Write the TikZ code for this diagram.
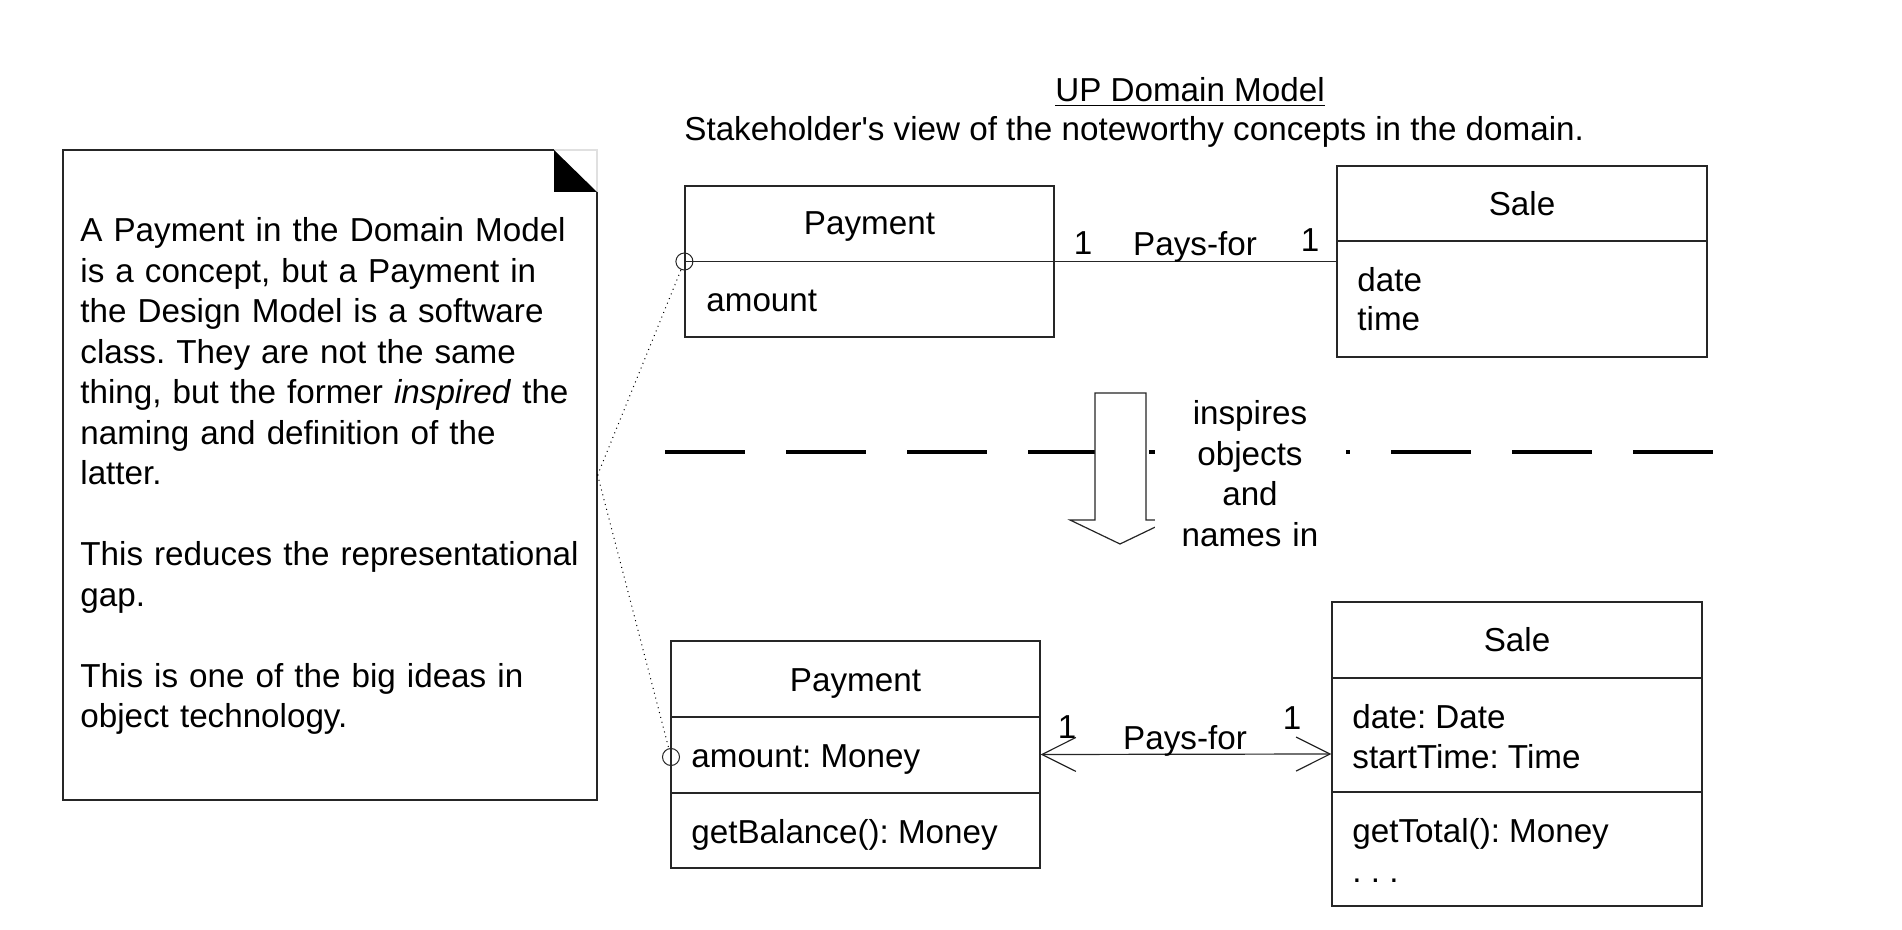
\documentclass[tikz,border=0pt]{standalone}
\usepackage{fontspec}
\newfontfamily\umlfont{Liberation Sans}
\usetikzlibrary{arrows.meta}
\frenchspacing

\begin{document}
\begin{tikzpicture}[x=0.5pt, y=-0.5pt,
    font=\umlfont\fontsize{16.6pt}{20.25pt}\selectfont,
    box/.style={draw=black!85, line width=0.6pt, inner sep=0pt},
    txt/.style={inner sep=0pt, anchor=base west},
    ctr/.style={inner sep=0pt, anchor=base},
    pin/.style={draw=black!85, circle, line width=0.5pt, inner sep=0pt, minimum size=8.5pt},
    assoc/.style={draw=black!85, line width=0.6pt},
    barb/.style={{Straight Barb[length=17pt,width=17pt]}-{Straight Barb[length=17pt,width=17pt]}}]
    \useasboundingbox (0,0) rectangle (1902,930);

    \node[ctr] (title) at (1190,102) {\underline{UP Domain Model}};
    \node[txt] (subtitle) at (684,141) {Stakeholder's view of the noteworthy concepts in the domain.};

    \node[box, minimum width=267pt, minimum height=325pt] (note) at (330,475) {};
    \fill[white] (553,147) -- (600,147) -- (600,193) -- cycle;
    \draw[black!12, line width=0.6pt] (554,150) -- (597,150) -- (597,192);
    \fill[black] (554,150) -- (597,192) -- (554,192) -- cycle;
    \node[txt, text width=260pt, align=left] (notetext) at (80,242) {A Payment in the Domain Model\\
      is a concept, but a Payment in\\
      the Design Model is a software\\
      class. They are not the same\\
      thing, but the former \textit{inspired} the\\
      naming and definition of the\\
      latter.\\[20.25pt]
      This reduces the representational\\
      gap.\\[20.25pt]
      This is one of the big ideas in\\
      object technology.};

    \node[box, minimum width=184.5pt, minimum height=75.5pt] (dmPay) at (869.5,261.5) {};
    \draw[box] (dmPay.west) -- (dmPay.east);
    \node[ctr] (dmPayName) at (869.5,235) {Payment};
    \node[txt] (dmPayAttr) at (706,312) {amount};

    \node[box, minimum width=185pt, minimum height=95.5pt] (dmSale) at (1522,261.5) {};
    \draw[box] (dmSale.west |- 0,241) -- (dmSale.east |- 0,241);
    \node[ctr] (dmSaleName) at (1522,216) {Sale};
    \node[txt] (dmSaleDate) at (1357,292) {date};
    \node[txt] (dmSaleTime) at (1357,331) {time};

    \draw[assoc] (dmPay.east) -- (dmSale.west);
    \node[ctr] (dmMulA) at (1083,255) {1};
    \node[ctr] (dmRole) at (1195,256) {Pays-for};
    \node[ctr] (dmMulB) at (1310,252) {1};

    \draw[line width=1.75pt, dash pattern=on 40pt off 20.5pt] (665,452) -- (1713,452);
    \draw[box, fill=white] (1095,393) -- (1146,393) -- (1146,520) -- (1170,520) -- (1120,544) -- (1070,520) -- (1095,520) -- cycle;
    \node[ctr, fill=white, text width=95.5pt, align=center] (inspires) at (1250,425) {inspires\\objects\\and\\names in};

    \node[box, minimum width=184.5pt, minimum height=113.5pt] (dsPay) at (855.5,754.5) {};
    \draw[box] (dsPay.west |- 0,717) -- (dsPay.east |- 0,717);
    \draw[box] (dsPay.west |- 0,793) -- (dsPay.east |- 0,793);
    \node[ctr] (dsPayName) at (855.5,691) {Payment};
    \node[txt] (dsPayAttr) at (691,767) {amount: Money};
    \node[txt] (dsPayOp) at (691,843) {getBalance(): Money};

    \node[box, minimum width=185pt, minimum height=152pt] (dsSale) at (1517,754) {};
    \draw[box] (dsSale.west |- 0,678) -- (dsSale.east |- 0,678);
    \draw[box] (dsSale.west |- 0,792) -- (dsSale.east |- 0,792);
    \node[ctr] (dsSaleName) at (1517,652) {Sale};
    \node[txt] (dsSaleDate) at (1352,728) {date: Date};
    \node[txt] (dsSaleTime) at (1352,768) {startTime: Time};
    \node[txt] (dsSaleOp) at (1352,842) {getTotal(): Money};
    \node[txt] (dsSaleMore) at (1352,882) {. . .};

    \draw[assoc, barb] (dsPay.east) -- (dsSale.west);
    \node[ctr] (dsMulA) at (1067,738) {1};
    \node[ctr] (dsRole) at (1185,749) {Pays-for};
    \node[ctr] (dsMulB) at (1292,729) {1};

    \node[pin] (dmPin) at (dmPay.west) {};
    \node[pin] (dsPin) at (671,757) {};
    \draw[dotted, line width=0.5pt] (note.east) -- (dmPin);
    \draw[dotted, line width=0.5pt] (note.east) -- (dsPin);
\end{tikzpicture}
\end{document}
